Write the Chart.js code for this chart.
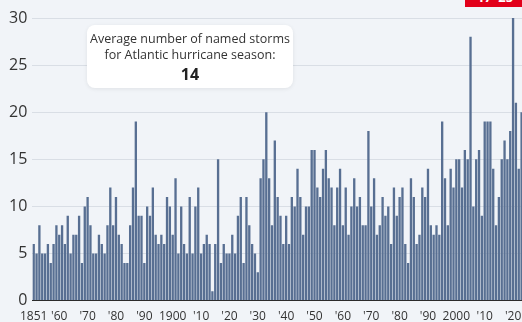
<!DOCTYPE html>
<html>
<head>
<meta charset="utf-8">
<script src="https://cdn.jsdelivr.net/npm/chart.js@4"></script>
<style>
  html, body { margin: 0; padding: 0; background: #f1f4f8; overflow: hidden; }
  #wrap { position: relative; width: 522px; height: 322px; overflow: hidden; }
  canvas { position: absolute; left: 0; top: 0; }
  .note {
    position: absolute; left: 87px; top: 25px; width: 206px; height: 63px;
    background: #fff; border-radius: 8px; box-shadow: 0 1px 4px rgba(0,0,0,0.08);
    font-family: "Open Sans", sans-serif; font-size: 12.5px; color: #333;
    text-align: center; line-height: 16px; padding-top: 6px; box-sizing: border-box;
  }
  .note b { display: block; font-size: 16px; line-height: 22px; color: #222; }
  .badge {
    position: absolute; left: 465px; top: -13px; width: 60px; height: 20px;
    background: #e2001a; color: #fff; font-family: "Open Sans", sans-serif;
    font-weight: bold; font-size: 13px; text-align: center; line-height: 20px;
  }
</style>
</head>
<body>
<div id="wrap">
  <canvas id="storms" width="526" height="327"></canvas>
  <div class="note">Average number of named storms<br>for Atlantic hurricane season:<b>14</b></div>
  <div class="badge">17–25</div>
</div>
<script>
// named storms per Atlantic season, 1851-2023
var firstYear = 1851;
var storms = [
  6, 5, 8, 5, 5, 6, 4, 6, 8,                 // 1851-59
  7, 8, 6, 9, 5, 7, 7, 9, 4, 10,             // 1860s
  11, 8, 5, 5, 7, 6, 5, 8, 12, 8,            // 1870s
  11, 7, 6, 4, 4, 8, 12, 19, 9, 9,           // 1880s
  4, 10, 9, 12, 7, 6, 7, 6, 11, 10,          // 1890s
  7, 13, 5, 10, 6, 5, 11, 5, 10, 12,         // 1900s
  5, 6, 7, 6, 1, 6, 15, 4, 6, 5,             // 1910s
  5, 7, 5, 9, 11, 4, 11, 8, 6, 5,            // 1920s
  3, 13, 15, 20, 13, 8, 17, 11, 9, 6,        // 1930s
  9, 6, 11, 10, 14, 11, 7, 10, 10, 16,       // 1940s
  16, 12, 11, 14, 16, 13, 12, 8, 12, 14,     // 1950s
  8, 12, 7, 10, 13, 10, 11, 8, 8, 18,        // 1960s
  10, 13, 7, 8, 11, 9, 10, 6, 12, 9,         // 1970s
  11, 12, 6, 4, 13, 11, 6, 7, 12, 11,        // 1980s
  14, 8, 7, 8, 7, 19, 13, 8, 14, 12,         // 1990s
  15, 15, 12, 16, 15, 28, 10, 15, 16, 9,     // 2000s
  19, 19, 19, 14, 8, 11, 15, 17, 15, 18,     // 2010s
  30, 21, 14, 20                             // 2020-23
];
var years = [];
for (var i = 0; i < storms.length; i++) years.push(firstYear + i);

var tickYears = [1851, 1860, 1870, 1880, 1890, 1900, 1910, 1920, 1930, 1940, 1950, 1960, 1970, 1980, 1990, 2000, 2010, 2020];
var tickTexts = ['1851', "'60", "'70", "'80", "'90", '1900', "'10", "'20", "'30", "'40", "'50", "'60", "'70", "'80", "'90", '2000', "'10", "'20"];
var yTicks = [0, 5, 10, 15, 20, 25, 30];

var ctx = document.getElementById('storms').getContext('2d');
var chart = new Chart(ctx, {
  type: 'bar',
  data: {
    labels: years,
    datasets: [{
      label: 'Named storms',
      data: storms,
      backgroundColor: '#586f92',
      borderWidth: 0,
      barPercentage: 0.82,
      categoryPercentage: 1
    }]
  },
  options: {
    responsive: false,
    animation: false,
    devicePixelRatio: 1,
    layout: { padding: { left: 4, right: 3, top: 18, bottom: 2 } },
    plugins: { legend: { display: false }, tooltip: { enabled: false } },
    scales: {
      x: {
        offset: true,
        grid: { display: false },
        border: { display: true, color: '#2b2b2b', width: 1 },
        ticks: {
          autoSkip: false,
          maxRotation: 0,
          padding: 1,
          color: '#333',
          font: { family: 'Open Sans', size: 12 },
          callback: function (v, i) {
            var k = tickYears.indexOf(years[i]);
            return k >= 0 ? tickTexts[k] : '';
          }
        }
      },
      y: {
        min: 0,
        max: 30,
        afterBuildTicks: function (axis) {
          axis.ticks = yTicks.map(function (v) { return { value: v }; });
        },
        grid: { color: '#d9dee5', drawTicks: false },
        border: { display: false },
        ticks: {
          padding: 5,
          color: '#333',
          font: { family: 'Open Sans', size: 16 }
        }
      }
    }
  }
});
</script>
</body>
</html>
